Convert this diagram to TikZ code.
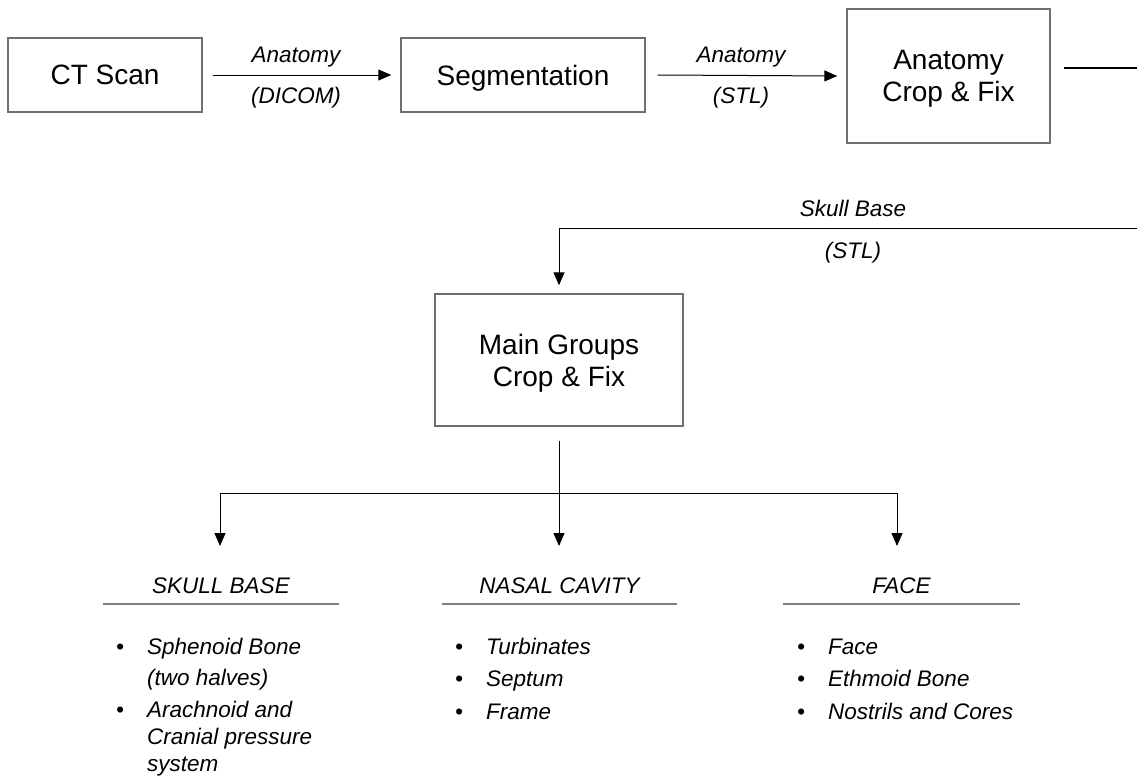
\documentclass[tikz,border=0pt]{standalone}
\usepackage{fontspec}
\setmainfont{Liberation Sans}
\usepackage{tikz}
\usetikzlibrary{arrows.meta}
\definecolor{boxgray}{HTML}{707070}
\definecolor{rulegray}{HTML}{808080}

\begin{document}
\begin{tikzpicture}[x=1pt,y=-1pt,
    box/.style={draw=boxgray, line width=1.4pt, align=center, inner sep=0pt, text depth=-4pt, font=\fontsize{28}{32}\selectfont},
    wire/.style={line width=1pt},
    flow/.style={wire, -{Triangle[length=13pt,width=11pt]}},
    lbl/.style={font=\fontsize{22.5}{27}\selectfont\itshape, inner sep=0pt, anchor=base},
    item/.style={lbl, anchor=base west},
    rule/.style={draw=rulegray, line width=2pt}]
    \useasboundingbox (0,0) rectangle (1137,776);

    % top row
    \node[box, minimum width=194pt, minimum height=74pt] (ct) at (105,75) {CT Scan};
    \node[box, minimum width=244pt, minimum height=74pt] (seg) at (523,75) {Segmentation};
    \node[box, minimum width=203pt, minimum height=134pt] (anat) at (948.5,76) {Anatomy\\Crop \& Fix};
    \draw[flow] ([xshift=10pt]ct.east) -- ([xshift=-9pt]seg.west);
    \node[lbl] (dicomtop) at (296,63) {Anatomy};
    \node[lbl] (dicombot) at (296,103) {(DICOM)};
    \draw[flow] ([xshift=12pt]seg.east) -- ([xshift=-9pt]anat.west);
    \node[lbl] (stltop) at (741,63) {Anatomy};
    \node[lbl] (stlbot) at (741,103) {(STL)};

    % wrap round to the second row
    \coordinate (wrapout) at (1137,68);
    \draw[wire] ([xshift=13pt,yshift=8pt]anat.east) -- (wrapout);
    \node[box, minimum width=248pt, minimum height=132pt] (main) at (559,360) {Main Groups\\Crop \& Fix};
    \coordinate (wrapin) at (1137,228);
    \draw[flow] (wrapin) -| ([yshift=8pt]main.north);
    \node[lbl] (skulltop) at (853,216) {Skull Base};
    \node[lbl] (skullbot) at (853,258) {(STL)};

    % fork to the groups
    \node[lbl] (hskull) at (221,593) {SKULL BASE};
    \node[lbl] (hnasal) at (559.5,593) {NASAL CAVITY};
    \node[lbl] (hface) at (901.5,593) {FACE};
    \coordinate (fork) at (559,493);
    \draw[wire] ([yshift=-14pt]main.south) -- (fork);
    \draw[wire] (220,493) -- (897,493);
    \draw[flow] (220,493) -- (220,546);
    \draw[flow] (fork) -- (559,546);
    \draw[flow] (897,493) -- (897,546);
    \draw[rule] (103,604) -- (339,604);
    \draw[rule] (442,604) -- (677,604);
    \draw[rule] (783,604) -- (1020,604);

    % skull base list
    \node[lbl] (b11) at (120,654) {•};
    \node[item] (t11) at (147,654) {Sphenoid Bone};
    \node[item] (t12) at (147,685) {(two halves)};
    \node[lbl] (b12) at (120,717) {•};
    \node[item] (t13) at (147,717) {Arachnoid and};
    \node[item] (t14) at (147,744) {Cranial pressure};
    \node[item] (t15) at (147,771) {system};

    % nasal cavity list
    \node[lbl] (b21) at (459,654) {•};
    \node[item] (t21) at (486,654) {Turbinates};
    \node[lbl] (b22) at (459,686) {•};
    \node[item] (t22) at (486,686) {Septum};
    \node[lbl] (b23) at (459,719) {•};
    \node[item] (t23) at (486,719) {Frame};

    % face list
    \node[lbl] (b31) at (801,654) {•};
    \node[item] (t31) at (828,654) {Face};
    \node[lbl] (b32) at (801,686) {•};
    \node[item] (t32) at (828,686) {Ethmoid Bone};
    \node[lbl] (b33) at (801,719) {•};
    \node[item] (t33) at (828,719) {Nostrils and Cores};
\end{tikzpicture}
\end{document}
